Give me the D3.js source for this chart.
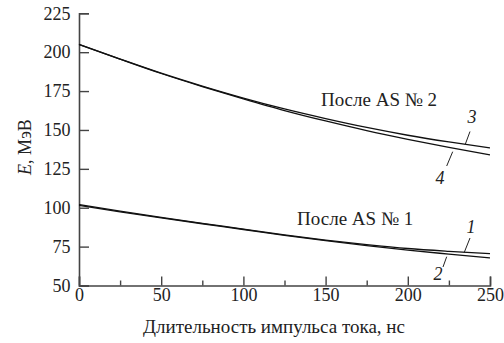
<!DOCTYPE html>
<html><head><meta charset="utf-8">
<script src="https://cdn.jsdelivr.net/npm/d3@7"></script>
<style>body{margin:0;background:#fff}svg{display:block}svg text{font-family:"Liberation Serif","Tinos","Times New Roman","DejaVu Serif",serif;fill:#222}</style>
</head><body>
<script>
const xTicks = [0, 50, 100, 150, 200, 250];
const xMinorTicks = [25, 75, 125, 175, 225];
const yTicks = [50, 75, 100, 125, 150, 175, 200, 225];
const tValues = [0, 25, 50, 75, 100, 125, 150, 175, 200, 225, 250];
const curve1 = [102, 97.8, 93.8, 90, 86.3, 82.5, 79.2, 76.3, 73.8, 72, 70.5];
const curve2 = [101.5, 97.4, 93.5, 89.7, 86, 82.2, 78.8, 75.6, 72.7, 70.2, 67.8];
const curve3 = [205, 195.6, 186.5, 178.2, 170.5, 163.5, 157.3, 151.6, 146.6, 142.3, 138.5];
const curve4 = [205, 195.5, 186.3, 177.9, 170.0, 162.5, 155.8, 149.6, 144.0, 138.8, 134];
const groupLabels = [{text: "После AS № 2", x: 182.5, y: 165.4}, {text: "После AS № 1", x: 168, y: 88.9}];

const W = 504, H = 343;
const svg = d3.select("body").append("svg").attr("width", W).attr("height", H);
const x = d3.scaleLinear().domain([0, 250]).range([79, 490]);
const y = d3.scaleLinear().domain([50, 225]).range([285.5, 13.3]);
const axisColor = "#444";
const FF = '"Liberation Serif","Tinos","Times New Roman","DejaVu Serif",serif';

// axes
const gx = svg.append("g").attr("transform", `translate(0,${y(50)})`)
  .call(d3.axisBottom(x).tickValues(xTicks).tickSize(-9).tickPadding(3).tickFormat(d3.format("d")));
svg.append("g").attr("transform", `translate(0,${y(50)})`)
  .call(d3.axisBottom(x).tickValues(xMinorTicks).tickSize(-5).tickFormat(""))
  .call(g => g.select(".domain").remove());
const gy = svg.append("g").attr("transform", `translate(${x(0)},0)`)
  .call(d3.axisLeft(y).tickValues(yTicks).tickSize(-10).tickPadding(8.5).tickFormat(d3.format("d")));
svg.selectAll("g").attr("font-family", FF);
svg.selectAll(".domain").attr("stroke", axisColor).attr("stroke-width", 1.6);
svg.selectAll(".tick line").attr("stroke", axisColor).attr("stroke-width", 1.4);
svg.selectAll(".tick text").attr("font-size", 18).attr("fill", "#222");

// axis titles
svg.append("text").attr("x", 274).attr("y", 333).attr("text-anchor", "middle")
  .attr("font-size", 19).text("Длительность импульса тока, нс");
const yl = svg.append("text").attr("transform", "translate(31,147) rotate(-90)")
  .attr("text-anchor", "middle").attr("font-size", 18);
yl.append("tspan").attr("font-style", "italic").text("E");
yl.append("tspan").text(", МэВ");

// curves
const line = d3.line().x((d, i) => x(tValues[i])).y(d => y(d)).curve(d3.curveMonotoneX);
[curve1, curve2, curve3, curve4].forEach(c => {
  svg.append("path").datum(c).attr("d", line).attr("fill", "none")
    .attr("stroke", "#111").attr("stroke-width", 1.3);
});

// group labels
groupLabels.forEach(g => {
  svg.append("text").attr("x", x(g.x)).attr("y", y(g.y)).attr("text-anchor", "middle")
    .attr("font-size", 19).text(g.text);
});

// curve number labels with leaders
const numLabels = [
  {n: "3", tx: 472, ty: 123, l: [[470, 131.5], [465, 145]]},
  {n: "4", tx: 440, ty: 184, l: [[452.7, 151.7], [446.7, 166]]},
  {n: "1", tx: 471, ty: 233, l: [[470, 238], [464, 253]]},
  {n: "2", tx: 438, ty: 280, l: [[446.7, 256.7], [443, 267]]}
];
numLabels.forEach(d => {
  svg.append("text").attr("x", d.tx).attr("y", d.ty).attr("text-anchor", "middle")
    .attr("font-size", 18).attr("font-style", "italic").text(d.n);
  svg.append("line").attr("x1", d.l[0][0]).attr("y1", d.l[0][1]).attr("x2", d.l[1][0]).attr("y2", d.l[1][1])
    .attr("stroke", "#222").attr("stroke-width", 1);
});
</script>
</body></html>
